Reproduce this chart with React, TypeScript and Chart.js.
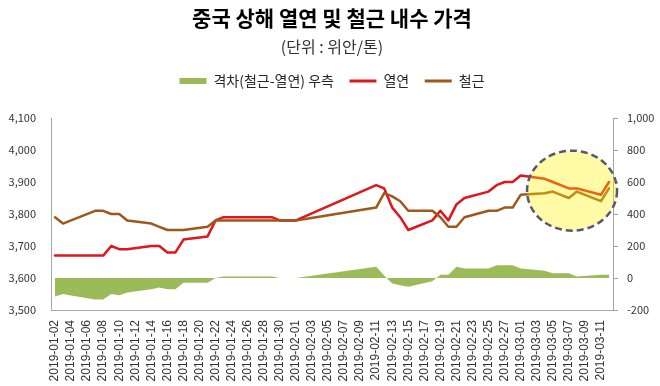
import React, { useEffect, useRef } from 'react';
import { Chart, registerables } from 'chart.js';

Chart.register(...registerables);

// ---- data ----
const categories = [
  '2019-01-02','2019-01-03','2019-01-04','2019-01-05','2019-01-06','2019-01-07','2019-01-08','2019-01-09','2019-01-10','2019-01-11',
  '2019-01-12','2019-01-13','2019-01-14','2019-01-15','2019-01-16','2019-01-17','2019-01-18','2019-01-19','2019-01-20','2019-01-21',
  '2019-01-22','2019-01-23','2019-01-24','2019-01-25','2019-01-26','2019-01-27','2019-01-28','2019-01-29','2019-01-30','2019-01-31',
  '2019-02-01','2019-02-02','2019-02-03','2019-02-04','2019-02-05','2019-02-06','2019-02-07','2019-02-08','2019-02-09','2019-02-10',
  '2019-02-11','2019-02-12','2019-02-13','2019-02-14','2019-02-15','2019-02-16','2019-02-17','2019-02-18','2019-02-19','2019-02-20',
  '2019-02-21','2019-02-22','2019-02-23','2019-02-24','2019-02-25','2019-02-26','2019-02-27','2019-02-28','2019-03-01','2019-03-02',
  '2019-03-03','2019-03-04','2019-03-05','2019-03-06','2019-03-07','2019-03-08','2019-03-09','2019-03-10','2019-03-11','2019-03-12',
];

const tradeDates = [
  '2019-01-02','2019-01-03','2019-01-04','2019-01-07','2019-01-08','2019-01-09','2019-01-10','2019-01-11',
  '2019-01-14','2019-01-15','2019-01-16','2019-01-17','2019-01-18','2019-01-21','2019-01-22','2019-01-23',
  '2019-01-24','2019-01-25','2019-01-28','2019-01-29','2019-01-30','2019-01-31','2019-02-01','2019-02-11',
  '2019-02-12','2019-02-13','2019-02-14','2019-02-15','2019-02-18','2019-02-19','2019-02-20','2019-02-21',
  '2019-02-22','2019-02-25','2019-02-26','2019-02-27','2019-02-28','2019-03-01','2019-03-04','2019-03-05',
  '2019-03-06','2019-03-07','2019-03-08','2019-03-11','2019-03-12',
];

// 열연 (hot-rolled)
const hotRolled = [
  3670, 3670, 3670, 3670, 3670, 3700, 3690, 3690,
  3700, 3700, 3680, 3680, 3720, 3730, 3780, 3790,
  3790, 3790, 3790, 3790, 3780, 3780, 3780, 3890,
  3880, 3820, 3790, 3750, 3780, 3810, 3780, 3830,
  3850, 3870, 3890, 3900, 3900, 3920, 3910, 3900,
  3890, 3880, 3880, 3860, 3900,
];

// 철근 (rebar)
const rebar = [
  3790, 3770, 3780, 3810, 3810, 3800, 3800, 3780,
  3770, 3760, 3750, 3750, 3750, 3760, 3780, 3780,
  3780, 3780, 3780, 3780, 3780, 3780, 3780, 3820,
  3865, 3855, 3840, 3810, 3810, 3790, 3760, 3760,
  3790, 3810, 3810, 3820, 3820, 3860, 3865, 3870,
  3860, 3850, 3870, 3840, 3880,
];

// 격차 (right axis)
const spread = [
  -115, -100, -110, -135, -135, -100, -108, -90,
  -70, -60, -70, -70, -30, -30, 0, 10,
  10, 10, 10, 10, 0, 0, 0, 70,
  15, -35, -45, -55, -20, 20, 20, 70,
  60, 60, 80, 80, 80, 60, 45, 30,
  30, 30, 10, 20, 20,
];

const seriesLabels = ['격차(철근-열연) 우측', '열연', '철근'];
const titleText = '중국 상해 열연 및 철근 내수 가격';
const subtitleText = '(단위 : 위안/톤)';

const leftAxis = { min: 3500, max: 4100, step: 100 };
const rightAxis = { min: -200, max: 1000, step: 200 };

// highlight ellipse (center in data coordinates)
const highlight = { centerIndex: 64.4, centerValue: 3873, rx: 45, ry: 40 };

// ---- styles ----
const COLORS = {
  spread: '#9BBB59',
  hot: '#E0161C',
  rebar: '#A0571B',
  axis: '#A6A6A6',
  text: '#333333',
};
const KR = "'Noto Sans CJK KR', 'Noto Sans', sans-serif";
const LEGEND_EXTRA = 20;
const LEGEND_SHIFT = 0;

const legendTweak = {
  id: 'legendTweak',
  beforeInit(chart: any) {
    const legend = chart.legend;
    if (!legend) return;
    const origFit = legend.fit;
    legend.fit = function () {
      origFit.call(this);
      this.height += LEGEND_EXTRA;
    };
    const origDraw = legend.draw;
    legend.draw = function () {
      const ctx = this.ctx;
      ctx.save();
      ctx.translate(LEGEND_SHIFT, 0);
      origDraw.call(this);
      ctx.restore();
    };
  },
};

const highlightPlugin = {
  id: 'highlightEllipse',
  afterDatasetsDraw(chart: any) {
    const { ctx, scales } = chart;
    const cx = scales.x.getPixelForValue(highlight.centerIndex);
    const cy = scales.y.getPixelForValue(highlight.centerValue);
    ctx.save();
    ctx.beginPath();
    ctx.ellipse(cx, cy, highlight.rx, highlight.ry, 0, 0, Math.PI * 2);
    ctx.fillStyle = 'rgba(255, 240, 0, 0.35)';
    ctx.fill();
    ctx.setLineDash([7, 4]);
    ctx.lineWidth = 2.5;
    ctx.strokeStyle = '#5A5572';
    ctx.stroke();
    ctx.restore();
  },
};

export default function App() {
  const canvasRef = useRef<HTMLCanvasElement | null>(null);

  useEffect(() => {
    document.body.style.margin = '0';
    const canvas = canvasRef.current;
    if (!canvas) return;

    const toPoints = (vals: number[]) => tradeDates.map((d, i) => ({ x: d, y: vals[i] }));

    const chart = new Chart(canvas, {
      type: 'line',
      data: {
        labels: categories,
        datasets: [
          {
            label: seriesLabels[0],
            data: toPoints(spread),
            yAxisID: 'y1',
            fill: 'origin',
            backgroundColor: COLORS.spread,
            borderColor: COLORS.spread,
            borderWidth: 0,
            pointRadius: 0,
            tension: 0,
            order: 3,
          },
          {
            label: seriesLabels[1],
            data: toPoints(hotRolled),
            yAxisID: 'y',
            fill: false,
            borderColor: COLORS.hot,
            backgroundColor: COLORS.hot,
            borderWidth: 2.5,
            borderJoinStyle: 'round',
            borderCapStyle: 'round',
            pointRadius: 0,
            tension: 0,
            order: 2,
          },
          {
            label: seriesLabels[2],
            data: toPoints(rebar),
            yAxisID: 'y',
            fill: false,
            borderColor: COLORS.rebar,
            backgroundColor: COLORS.rebar,
            borderWidth: 2.5,
            borderJoinStyle: 'round',
            borderCapStyle: 'round',
            pointRadius: 0,
            tension: 0,
            order: 1,
          },
        ],
      },
      options: {
        responsive: false,
        animation: false,
        devicePixelRatio: 1,
        layout: { padding: { left: 7, right: 3, top: 0, bottom: 0 } },
        plugins: {
          tooltip: { enabled: false },
          title: {
            display: true,
            text: titleText,
            color: '#000',
            font: { family: KR, size: 21, weight: 'bold' },
            padding: { top: 5.4, bottom: 3 },
          },
          subtitle: {
            display: true,
            text: subtitleText,
            color: COLORS.text,
            font: { family: KR, size: 16 },
            padding: { top: 3.5, bottom: 2.2 },
          },
          legend: {
            display: true,
            position: 'top',
            labels: {
              usePointStyle: true,
              pointStyleWidth: 27,
              boxWidth: 27,
              boxHeight: 6,
              padding: 15.5,
              color: '#262626',
              font: { family: KR, size: 14 },
              sort: (a: any, b: any) => a.datasetIndex - b.datasetIndex,
              generateLabels: (ch: any) =>
                ch.data.datasets.map((ds: any, i: number) => ({
                  text: ds.label,
                  datasetIndex: i,
                  fillStyle: i === 0 ? COLORS.spread : ds.borderColor,
                  strokeStyle: i === 0 ? COLORS.spread : ds.borderColor,
                  lineWidth: i === 0 ? 0 : 3,
                  pointStyle: i === 0 ? 'rect' : 'line',
                  hidden: false,
                  fontColor: '#262626',
                })),
            },
          },
        },
        scales: {
          x: {
            type: 'category',
            offset: true,
            grid: { display: false, drawTicks: false },
            border: { display: true, color: COLORS.axis, width: 1 },
            afterFit: (scale: any) => {
              scale.height = 76;
            },
            ticks: {
              autoSkip: false,
              minRotation: 90,
              maxRotation: 90,
              padding: 10,
              color: COLORS.text,
              font: { family: "'Liberation Sans', Arial, sans-serif", size: 12 },
              callback: function (this: any, value: any, index: number) {
                return index % 2 === 0 ? this.getLabelForValue(value) : '';
              },
            },
          },
          y: {
            position: 'left',
            min: leftAxis.min,
            max: leftAxis.max,
            grid: { display: false, drawTicks: false },
            border: { display: true, color: COLORS.axis, width: 1 },
            afterFit: (scale: any) => {
              scale.width = 44;
            },
            ticks: {
              stepSize: leftAxis.step,
              padding: 15,
              color: COLORS.text,
              font: { family: KR, size: 11 },
              callback: (v: any) => Number(v).toLocaleString('en-US'),
            },
          },
          y1: {
            position: 'right',
            min: rightAxis.min,
            max: rightAxis.max,
            grid: { display: true, drawOnChartArea: false, drawTicks: true, tickLength: 5, color: COLORS.axis },
            border: { display: true, color: COLORS.axis, width: 1 },
            afterFit: (scale: any) => {
              scale.width = 44;
            },
            ticks: {
              stepSize: rightAxis.step,
              padding: 9,
              color: COLORS.text,
              font: { family: KR, size: 11 },
              callback: (v: any) => Number(v).toLocaleString('en-US'),
            },
          },
        },
      },
      plugins: [legendTweak, highlightPlugin],
    } as any);

    return () => chart.destroy();
  }, []);

  return (
    <div style={{ position: 'absolute', left: 0, top: 0, width: 660, height: 386, background: '#fff' }}>
      <canvas ref={canvasRef} width={660} height={386} style={{ display: 'block' }} />
    </div>
  );
}
